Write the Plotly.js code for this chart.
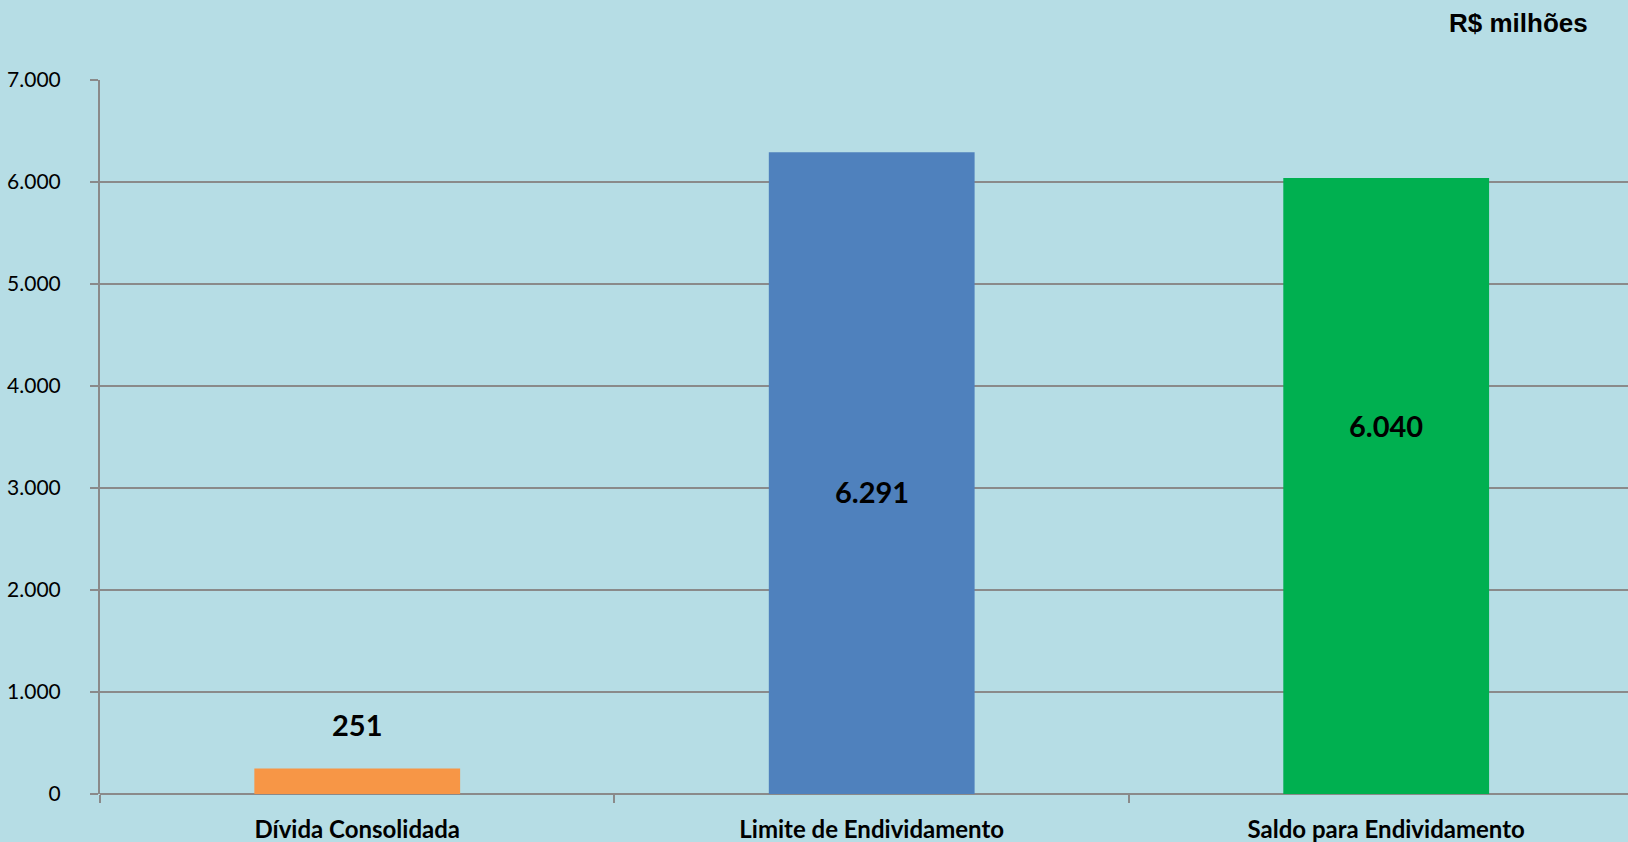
<!DOCTYPE html>
<html>
<head>
<meta charset="utf-8">
<script src="https://cdn.plot.ly/plotly-3.0.1.min.js"></script>
<style>html,body{margin:0;padding:0;background:#B6DDE5;}#chart{width:1628px;height:842px;}</style>
</head>
<body>
<div id="chart"></div>
<script>
const categories = ["Dívida Consolidada", "Limite de Endividamento", "Saldo para Endividamento"];
const values = [251, 6291, 6040];
const barColors = ["#F79646", "#4F81BD", "#00B050"];
const yTickValues = [0, 1000, 2000, 3000, 4000, 5000, 6000, 7000];
const unitLabel = "R$ milhões";

function fmt(v) {
  return String(Math.round(v)).replace(/\B(?=(\d{3})+(?!\d))/g, ".");
}

const gridColor = "#8A8A8A";
const bg = "#B6DDE5";

const trace = {
  type: "bar",
  x: categories,
  y: values,
  width: 0.4,
  marker: {color: barColors, line: {width: 0}},
  hoverinfo: "skip"
};

// label placements (relative to each bar)
const labelYShift = [44, -18, 60];
const labelAtTop = [true, false, false];
const annotations = categories.map((c, i) => ({
  x: c,
  y: labelAtTop[i] ? values[i] : values[i] / 2,
  xref: "x", yref: "y",
  text: "<b>" + fmt(values[i]) + "</b>",
  showarrow: false,
  yshift: labelYShift[i],
  font: {family: "Lato, 'Open Sans', sans-serif", size: 29, color: "#000000"}
}));
annotations.push({
  x: 0.975, y: 1.08, xref: "paper", yref: "paper",
  xanchor: "right", yanchor: "middle",
  text: "<b>" + unitLabel + "</b>",
  showarrow: false,
  font: {family: "'Liberation Sans', Arial, sans-serif", size: 26, color: "#000000"}
});

const layout = {
  width: 1628, height: 842,
  paper_bgcolor: bg, plot_bgcolor: bg,
  margin: {l: 100, r: 0, t: 80, b: 48, pad: 0},
  showlegend: false,
  separators: ",.",
  bargap: 0.6,
  xaxis: {
    type: "category",
    range: [-0.5, 2.47],
    tickson: "boundaries",
    ticks: "outside", ticklen: 8, tickwidth: 2, tickcolor: gridColor,
    showline: false,
    showgrid: false,
    tickfont: {family: "Lato, 'Open Sans', sans-serif", size: 24, color: "#000000", weight: "bold"},
    ticklabelstandoff: 19,
    fixedrange: true
  },
  yaxis: {
    range: [0, 7000],
    tickvals: yTickValues,
    ticktext: yTickValues.map(fmt),
    ticks: "outside", ticklen: 8, tickwidth: 2, tickcolor: gridColor,
    showline: true, linecolor: gridColor, linewidth: 2,
    showgrid: true, gridcolor: gridColor, gridwidth: 2,
    zeroline: true, zerolinecolor: gridColor, zerolinewidth: 2,
    tickfont: {family: "Lato, 'Open Sans', sans-serif", size: 21, color: "#000000"},
    ticklabelstandoff: 25,
    fixedrange: true
  },
  annotations: annotations
};

Plotly.newPlot("chart", [trace], layout, {displayModeBar: false, staticPlot: true});
</script>
</body>
</html>
